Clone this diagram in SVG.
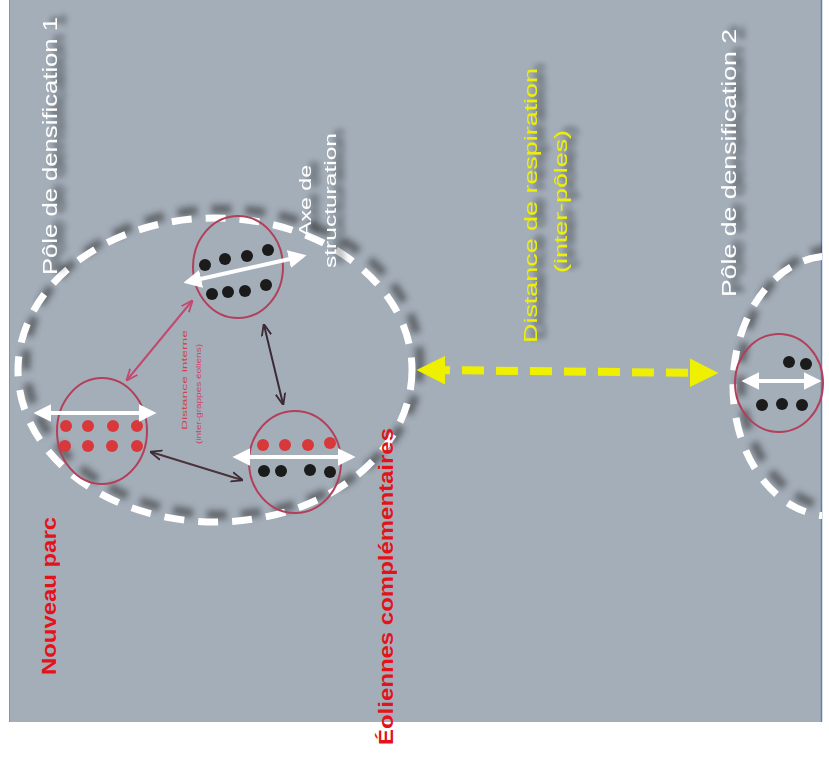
<svg xmlns="http://www.w3.org/2000/svg" width="829" height="760" viewBox="0 0 829 760">
<defs>
<style>
.wt{font-family:"Liberation Sans",Arial,sans-serif;fill:#ffffff}
.rt{font-family:"Liberation Sans",Arial,sans-serif;font-weight:bold;fill:#e3131b}
.yt{font-family:"Liberation Sans",Arial,sans-serif;fill:#eef000}
.pole{fill:none;stroke:#ffffff;stroke-width:7}
.poleshadow{fill:none;stroke:#2a2a2a;stroke-width:9;opacity:0.55}
.grp{fill:none;stroke:#b2405a;stroke-width:2}
.bd{fill:#1b1b1b}
.rd{fill:#d8383a}
.warrow{stroke:#ffffff;stroke-width:4;fill:none}
</style>
<clipPath id="panel"><rect x="9" y="0" width="813" height="722"/></clipPath>
<filter id="blur" x="-20%" y="-20%" width="140%" height="140%"><feGaussianBlur stdDeviation="3"/></filter>
<filter id="tsh" x="-20%" y="-60%" width="140%" height="220%"><feGaussianBlur in="SourceAlpha" stdDeviation="3"/><feOffset dx="4" dy="8"/><feComponentTransfer><feFuncA type="linear" slope="0.65"/></feComponentTransfer><feMerge><feMergeNode/><feMergeNode in="SourceGraphic"/></feMerge></filter>
<marker id="wh" viewBox="0 0 10 10" refX="8" refY="5" markerWidth="4.5" markerHeight="4.5" orient="auto-start-reverse" markerUnits="strokeWidth"><path d="M0,0 L10,5 L0,10 Z" fill="#ffffff"/></marker>
<marker id="ph" viewBox="0 0 10 10" refX="9" refY="5" markerWidth="6" markerHeight="6" orient="auto-start-reverse" markerUnits="strokeWidth"><path d="M0,1 L10,5 L0,9" fill="none" stroke="#c04a70" stroke-width="1.5"/></marker>
<marker id="dh" viewBox="0 0 10 10" refX="9" refY="5" markerWidth="6" markerHeight="6" orient="auto-start-reverse" markerUnits="strokeWidth"><path d="M0,1 L10,5 L0,9" fill="none" stroke="#3a2a36" stroke-width="1.5"/></marker>
<marker id="yh" viewBox="0 0 10 10" refX="6" refY="5" markerWidth="3.6" markerHeight="3.6" orient="auto-start-reverse" markerUnits="strokeWidth"><path d="M0,0 L10,5 L0,10 Z" fill="#eef000"/></marker>
</defs>

<rect x="0" y="0" width="829" height="760" fill="#ffffff"/>
<rect x="9" y="0" width="813" height="722" fill="#a4aeb9"/>
<line x1="821.5" y1="0" x2="821.5" y2="722" stroke="#5f82ad" stroke-width="1.5"/>
<line x1="9.5" y1="0" x2="9.5" y2="722" stroke="#8a949e" stroke-width="1"/>

<g id="pole1">
<ellipse cx="223" cy="362" rx="197" ry="153" class="poleshadow" stroke-dasharray="20 14" filter="url(#blur)"/>
<ellipse cx="215" cy="370" rx="197" ry="152" class="pole" stroke-dasharray="20 14"/>
<text class="wt" font-size="21" textLength="258" lengthAdjust="spacingAndGlyphs" transform="translate(57,275) rotate(-90)" filter="url(#tsh)">Pôle de densification 1</text>
</g>

<g id="pole2">
<g clip-path="url(#panel)">
<ellipse cx="838" cy="378" rx="97" ry="130" class="poleshadow" stroke-dasharray="20 14" filter="url(#blur)"/>
<ellipse cx="830" cy="386" rx="97" ry="130" class="pole" stroke-dasharray="20 14"/>
</g>
<text class="wt" font-size="21" textLength="268" lengthAdjust="spacingAndGlyphs" transform="translate(736,297) rotate(-90)" filter="url(#tsh)">Pôle de densification 2</text>
</g>

<g id="axe-label">
<text class="wt" font-size="16" textLength="72" lengthAdjust="spacingAndGlyphs" transform="translate(311,237) rotate(-90)" filter="url(#tsh)">Axe de</text>
<text class="wt" font-size="16" textLength="135" lengthAdjust="spacingAndGlyphs" transform="translate(336,268) rotate(-90)" filter="url(#tsh)">structuration</text>
</g>

<g id="cluster-top">
<ellipse cx="238" cy="267" rx="45" ry="51" class="grp"/>
<circle cx="205" cy="265" r="6" class="bd"/>
<circle cx="225" cy="259" r="6" class="bd"/>
<circle cx="247" cy="256" r="6" class="bd"/>
<circle cx="268" cy="250" r="6" class="bd"/>
<circle cx="212" cy="294" r="6" class="bd"/>
<circle cx="228" cy="292" r="6" class="bd"/>
<circle cx="245" cy="291" r="6" class="bd"/>
<circle cx="266" cy="285" r="6" class="bd"/>
<line x1="187" y1="282" x2="303" y2="256" class="warrow" marker-start="url(#wh)" marker-end="url(#wh)"/>
</g>

<g id="cluster-left">
<ellipse cx="102" cy="431" rx="45" ry="53" class="grp"/>
<circle cx="66" cy="426" r="6" class="rd"/>
<circle cx="88" cy="426" r="6" class="rd"/>
<circle cx="113" cy="426" r="6" class="rd"/>
<circle cx="137" cy="426" r="6" class="rd"/>
<circle cx="65" cy="446" r="6" class="rd"/>
<circle cx="88" cy="446" r="6" class="rd"/>
<circle cx="112" cy="446" r="6" class="rd"/>
<circle cx="137" cy="446" r="6" class="rd"/>
<line x1="37" y1="413" x2="153" y2="413" class="warrow" marker-start="url(#wh)" marker-end="url(#wh)"/>
</g>

<g id="cluster-right">
<ellipse cx="295" cy="462" rx="46" ry="51" class="grp"/>
<circle cx="263" cy="445" r="6" class="rd"/>
<circle cx="285" cy="445" r="6" class="rd"/>
<circle cx="308" cy="445" r="6" class="rd"/>
<circle cx="330" cy="443" r="6" class="rd"/>
<circle cx="264" cy="471" r="6" class="bd"/>
<circle cx="281" cy="471" r="6" class="bd"/>
<circle cx="310" cy="470" r="6" class="bd"/>
<circle cx="330" cy="472" r="6" class="bd"/>
<line x1="236" y1="457" x2="352" y2="457" class="warrow" marker-start="url(#wh)" marker-end="url(#wh)"/>
</g>

<g id="cluster-pole2">
<ellipse cx="779" cy="383" rx="44" ry="49" class="grp"/>
<circle cx="789" cy="362" r="6" class="bd"/>
<circle cx="806" cy="364" r="6" class="bd"/>
<circle cx="762" cy="405" r="6" class="bd"/>
<circle cx="782" cy="404" r="6" class="bd"/>
<circle cx="802" cy="405" r="6" class="bd"/>
<line x1="745" y1="381" x2="818" y2="381" class="warrow" marker-start="url(#wh)" marker-end="url(#wh)"/>
</g>

<g id="connectors">
<line x1="192" y1="301" x2="127" y2="380" stroke="#c04a70" stroke-width="2" marker-start="url(#ph)" marker-end="url(#ph)"/>
<line x1="264" y1="325" x2="283" y2="404" stroke="#3a2a36" stroke-width="2" marker-start="url(#dh)" marker-end="url(#dh)"/>
<line x1="151" y1="452" x2="242" y2="480" stroke="#4a3438" stroke-width="2" marker-start="url(#dh)" marker-end="url(#dh)"/>
<line x1="428" y1="370" x2="707" y2="373" stroke="#eef000" stroke-width="8" stroke-dasharray="22 12" marker-start="url(#yh)" marker-end="url(#yh)"/>
</g>

<g id="distance-interne">
<text font-family="Liberation Sans, Arial, sans-serif" font-size="7" fill="#d0404a" textLength="100" lengthAdjust="spacingAndGlyphs" transform="translate(187,430) rotate(-90)">Distance interne</text>
<text font-family="Liberation Sans, Arial, sans-serif" font-size="7" fill="#d0406a" textLength="100" lengthAdjust="spacingAndGlyphs" transform="translate(201,444) rotate(-90)">(inter-grappes éoliens)</text>
</g>

<g id="respiration-label">
<text class="yt" font-size="19" textLength="275" lengthAdjust="spacingAndGlyphs" transform="translate(537,343) rotate(-90)" filter="url(#tsh)">Distance de respiration</text>
<text class="yt" font-size="19" textLength="143" lengthAdjust="spacingAndGlyphs" transform="translate(567,273) rotate(-90)" filter="url(#tsh)">(inter-pôles)</text>
</g>

<g id="labels">
<text class="rt" font-size="21" textLength="158" lengthAdjust="spacingAndGlyphs" transform="translate(56,675) rotate(-90)">Nouveau parc</text>
<text class="rt" font-size="21" textLength="317" lengthAdjust="spacingAndGlyphs" transform="translate(393,745) rotate(-90)">Éoliennes complémentaires</text>
</g>
</svg>
